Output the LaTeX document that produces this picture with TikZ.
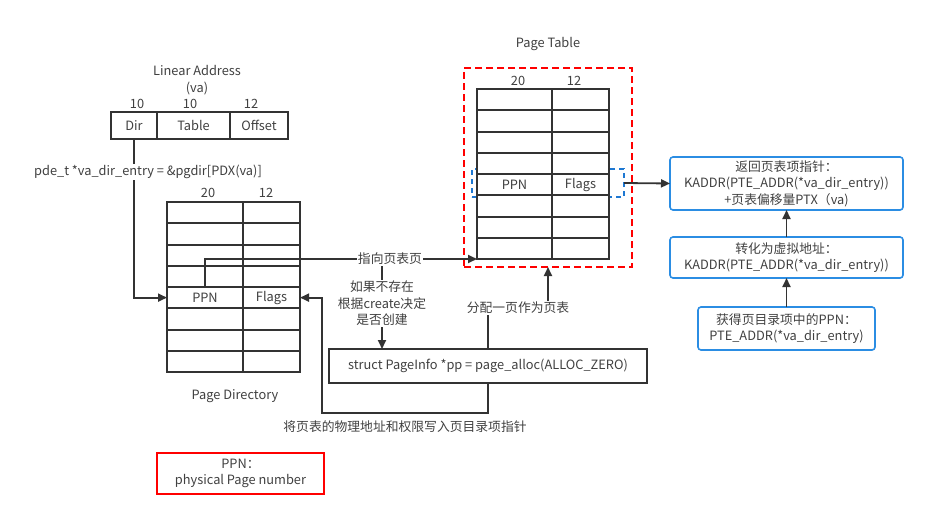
\documentclass[tikz,border=0pt]{standalone}
\usepackage{fontspec}
\setmainfont{Noto Sans CJK SC}
\usetikzlibrary{arrows.meta,calc,positioning}
\definecolor{linec}{HTML}{333333}
\definecolor{textc}{HTML}{404040}
\definecolor{boxblue}{HTML}{2B8DE3}
\definecolor{selblue}{HTML}{1E78D2}

\begin{document}
\begin{tikzpicture}[x=1pt, y=-1pt, >={Triangle[length=9pt,width=8pt]},
  font=\fontsize{12.8}{16.5}\selectfont, text=textc,
  cell/.style={draw=linec, line width=2pt, fill=white, inner sep=0pt, outer sep=0pt, minimum height=21.25pt},
  addr/.style={draw=linec, line width=2pt, inner sep=0pt, outer sep=0pt, minimum height=27pt},
  note/.style={draw=boxblue, line width=1.6pt, rounded corners=3pt, align=center, inner sep=0pt, outer sep=0pt},
  lbl/.style={fill=white, inner sep=1pt},
  arr/.style={->, draw=linec, line width=1.8pt}]
			\useasboundingbox (0,0) rectangle (928,519);
			% linear address
			\node[align=center] (latitle) at (197,80) {Linear Address\\(va)};
			\node[addr, minimum width=46pt] (dir) at (134,125.5) {Dir};
			\node[addr, minimum width=73pt, right=0pt of dir] (tbl) {Table};
			\node[addr, minimum width=58pt, right=0pt of tbl] (ofs) {Offset};
			\node (dirbits) at (137,104) {10};
			\node (tblbits) at (190,104) {10};
			\node (ofsbits) at (251,104) {12};
			% page directory
			\foreach \r in {0,...,7} {
				\node[cell, minimum width=76pt] (pdl\r) at (205,212.625+21.25*\r) {};
				\node[cell, minimum width=57pt] (pdr\r) at (271.5,212.625+21.25*\r) {};
			}
			\node (pdppn) at (pdl4) {PPN};
			\node (pdflags) at (pdr4) {Flags};
			\node (pdhi) at (208,193) {20};
			\node (pdlo) at (266,193) {12};
			\node (pdname) at (235,396) {Page Directory};
			% page table
			\node (ptname) at (548,44) {Page Table};
			\node[draw=red, line width=1.8pt, dash pattern=on 7pt off 4pt, minimum width=168pt, minimum height=199pt, inner sep=0pt, outer sep=0pt] (ptframe) at (548,167.5) {};
			\node[draw=selblue, line width=1.5pt, dash pattern=on 5pt off 4pt, minimum width=152pt, minimum height=28pt, inner sep=0pt, outer sep=0pt] (rowsel) at (548,183) {};
			\foreach \r in {0,...,7} {
				\node[cell, minimum width=75pt] (ptl\r) at (514.5,99.625+21.25*\r) {};
				\node[cell, minimum width=57pt] (ptr\r) at (580.5,99.625+21.25*\r) {};
			}
			\node (ptppn) at (ptl4) {PPN};
			\node (ptflags) at (ptr4) {Flags};
			\node (pthi) at (518,81) {20};
			\node (ptlo) at (574,81) {12};
			% allocation
			\node[draw=linec, line width=2pt, minimum width=318pt, minimum height=34pt, inner sep=0pt, outer sep=0pt] (sbox) at (488,366) {struct PageInfo *pp = page\_alloc(ALLOC\_ZERO)};
			% steps on the right
			\node[note, minimum width=233pt, minimum height=53pt] (ret) at (786.5,183.5) {返回页表项指针：\\KADDR(PTE\_ADDR(*va\_dir\_entry))\\+页表偏移量PTX（va)};
			\node[note, minimum width=233pt, minimum height=41pt] (kaddr) at (786.5,257.5) {转化为虚拟地址：\\KADDR(PTE\_ADDR(*va\_dir\_entry))};
			\node[note, minimum width=177pt, minimum height=43pt] (ppnget) at (786.5,328.5) {获得页目录项中的PPN：\\PTE\_ADDR(*va\_dir\_entry)};
			% legend
			\node[draw=red, line width=1.8pt, minimum width=167pt, minimum height=41pt, align=center, inner sep=0pt] (legend) at (240.5,473.5) {PPN：\\physical Page number};
			% connectors
			\draw[arr] (dir.south) |- (pdl4.west);
			\node[lbl] (pdelbl) at (148,172) {pde\_t *va\_dir\_entry = \&pgdir[PDX(va)]};
			\coordinate (split) at (382,258);
			\draw[arr] (split) -- (split |- sbox.north) node[lbl, midway, align=center] (createlbl) {如果不存在\\根据create决定\\是否创建};
			\draw[arr] (pdl4.north) |- (ptl7.south west) node[lbl, pos=0.84] (pointlbl) {指向页表页};
			\coordinate (allocturn) at (548,308);
			\draw[arr] (sbox.north) |- (allocturn) node[lbl, pos=0.75] (alloclbl) {分配一页作为页表} -- (ptframe.south);
			\coordinate (wbcorner) at (322,413);
			\draw[arr] (sbox.south) |- (wbcorner) |- (pdr4.east);
			\node (wblbl) at (405,427) {将页表的物理地址和权限写入页目录项指针};
			\draw[arr] (rowsel.east) -- (ret.west);
			\draw[arr] (ppnget) -- (kaddr);
			\draw[arr] (kaddr) -- (ret);
		\end{tikzpicture}
\end{document}
